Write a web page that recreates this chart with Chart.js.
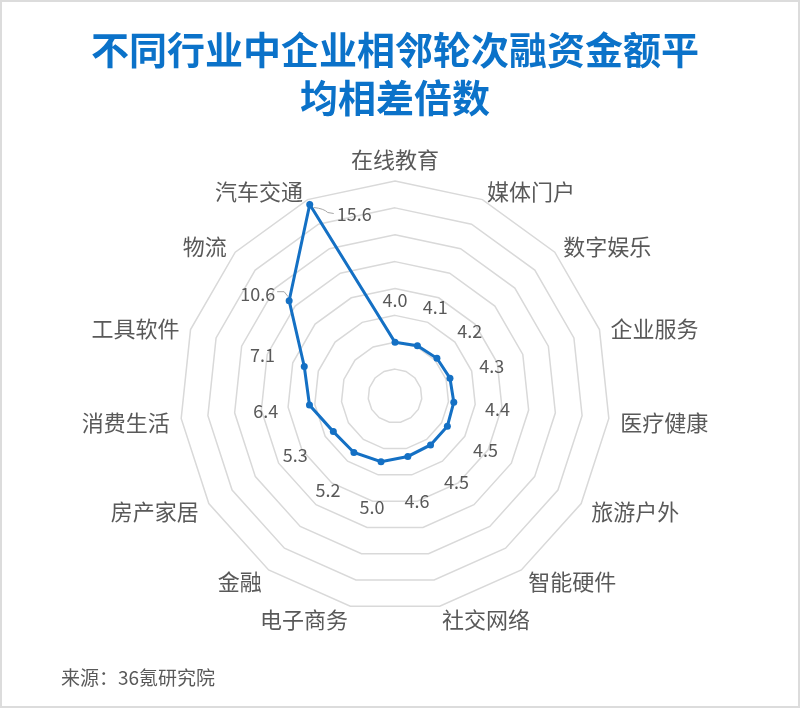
<!DOCTYPE html>
<html>
<head>
<meta charset="utf-8">
<script src="https://cdn.jsdelivr.net/npm/chart.js@4.4.1/dist/chart.umd.min.js"></script>
<style>
  html, body { margin: 0; padding: 0; background: #fff; }
  #wrap { position: relative; width: 800px; height: 708px; }
  #frame { position: absolute; left: 0; top: 0; width: 800px; height: 708px; box-sizing: border-box; border: 2px solid #dcdcdc; pointer-events: none; }
  #source { position: absolute; left: 61px; top: 663px; font: 19px "Noto Sans CJK SC", sans-serif; color: #595959; }
</style>
</head>
<body>
<div id="wrap">
  <canvas id="radarChart" width="800" height="708"></canvas>
  <div id="frame"></div>
  <div id="source">来源：36氪研究院</div>
</div>
<script>
// industries, clockwise from the top
var industries = ["在线教育", "媒体门户", "数字娱乐", "企业服务", "医疗健康", "旅游户外", "智能硬件", "社交网络",
                  "电子商务", "金融", "房产家居", "消费生活", "工具软件", "物流", "汽车交通"];
// average multiple between adjacent funding rounds
var multiples = [4.0, 4.1, 4.2, 4.3, 4.4, 4.5, 4.5, 4.6, 5.0, 5.2, 5.3, 6.4, 7.1, 10.6, 15.6];
var scaleMax = 16;
var scaleStep = 2;

var blue = '#1470c4';
var font = '"Noto Sans CJK SC", "Noto Sans", sans-serif';

// category labels: Chart.js keeps them for fitting (transparent),
// drawn here vertically centred on the spoke the way Excel does it
var categoryLabels = {
  id: 'categoryLabels',
  afterDraw: function (chart) {
    var ctx = chart.ctx;
    var scale = chart.scales.r;
    ctx.save();
    ctx.font = '22px ' + font;
    ctx.fillStyle = '#595959';
    ctx.textBaseline = 'middle';
    industries.forEach(function (name, i) {
      var pos = scale.getPointPosition(i, scale.drawingArea + 11.5);
      var dx = pos.x - scale.xCenter;
      if (Math.abs(dx) < 2) {
        ctx.textAlign = 'center';
        ctx.fillText(name, pos.x, pos.y - 10);
      } else {
        ctx.textAlign = dx > 0 ? 'left' : 'right';
        ctx.fillText(name, pos.x, pos.y + 2.5);
      }
    });
    ctx.restore();
  }
};

// value labels, pushed out along each spoke (two get a leader line)
var valueLabels = {
  id: 'valueLabels',
  afterDatasetsDraw: function (chart) {
    var ctx = chart.ctx;
    var scale = chart.scales.r;
    var pts = chart.getDatasetMeta(0).data;
    ctx.save();
    ctx.font = '18px ' + font;
    ctx.fillStyle = '#595959';
    ctx.textBaseline = 'middle';
    pts.forEach(function (p, i) {
      var txt = multiples[i].toFixed(1);
      if (industries[i] === '汽车交通') {
        ctx.strokeStyle = '#a6a6a6'; ctx.lineWidth = 1;
        ctx.beginPath();
        ctx.moveTo(p.x + 4, p.y + 3);
        ctx.quadraticCurveTo(p.x + 14, p.y + 4, p.x + 18, p.y + 8);
        ctx.lineTo(p.x + 24, p.y + 9);
        ctx.stroke();
        ctx.textAlign = 'left';
        ctx.fillText(txt, p.x + 27, p.y + 10);
      } else if (industries[i] === '物流') {
        ctx.strokeStyle = '#a6a6a6'; ctx.lineWidth = 1;
        ctx.beginPath();
        ctx.moveTo(p.x - 12, p.y - 9);
        ctx.lineTo(p.x - 5, p.y - 9);
        ctx.lineTo(p.x - 1, p.y - 4);
        ctx.stroke();
        ctx.textAlign = 'right';
        ctx.fillText(txt, p.x - 14, p.y - 7);
      } else {
        var d = scale.getDistanceFromCenterForValue(multiples[i]) + 44;
        var pos = scale.getPointPosition(i, d);
        ctx.textAlign = 'center';
        ctx.fillText(txt, pos.x, pos.y + 2);
      }
    });
    ctx.restore();
  }
};

var ctxR = document.getElementById('radarChart').getContext('2d');
var myRadarChart = new Chart(ctxR, {
  type: 'radar',
  data: {
    labels: industries,
    datasets: [{
      label: '平均相差倍数',
      data: multiples,
      borderColor: blue,
      backgroundColor: 'rgba(0,0,0,0)',
      borderWidth: 3,
      pointRadius: 3.5,
      pointBackgroundColor: blue,
      pointBorderColor: blue,
      pointBorderWidth: 0,
      fill: false,
      tension: 0
    }]
  },
  options: {
    responsive: false,
    animation: false,
    layout: { padding: { left: 20, right: 30, top: 0, bottom: 62 } },
    plugins: {
      legend: { display: false },
      tooltip: { enabled: false },
      title: {
        display: true,
        text: ['不同行业中企业相邻轮次融资金额平', '均相差倍数'],
        color: '#0b72c9',
        font: { family: font, size: 38, weight: 'bold', lineHeight: 1.2632 },
        padding: { top: 26, bottom: 20.6 }
      }
    },
    scales: {
      r: {
        min: 0,
        max: scaleMax,
        ticks: { stepSize: scaleStep, display: false },
        grid: { color: '#d9d9d9', lineWidth: 1.5 },
        angleLines: { display: false },
        pointLabels: {
          color: 'rgba(0,0,0,0)',
          padding: 10,
          font: { family: font, size: 22 }
        }
      }
    }
  },
  plugins: [valueLabels, categoryLabels]
});
</script>
</body>
</html>
